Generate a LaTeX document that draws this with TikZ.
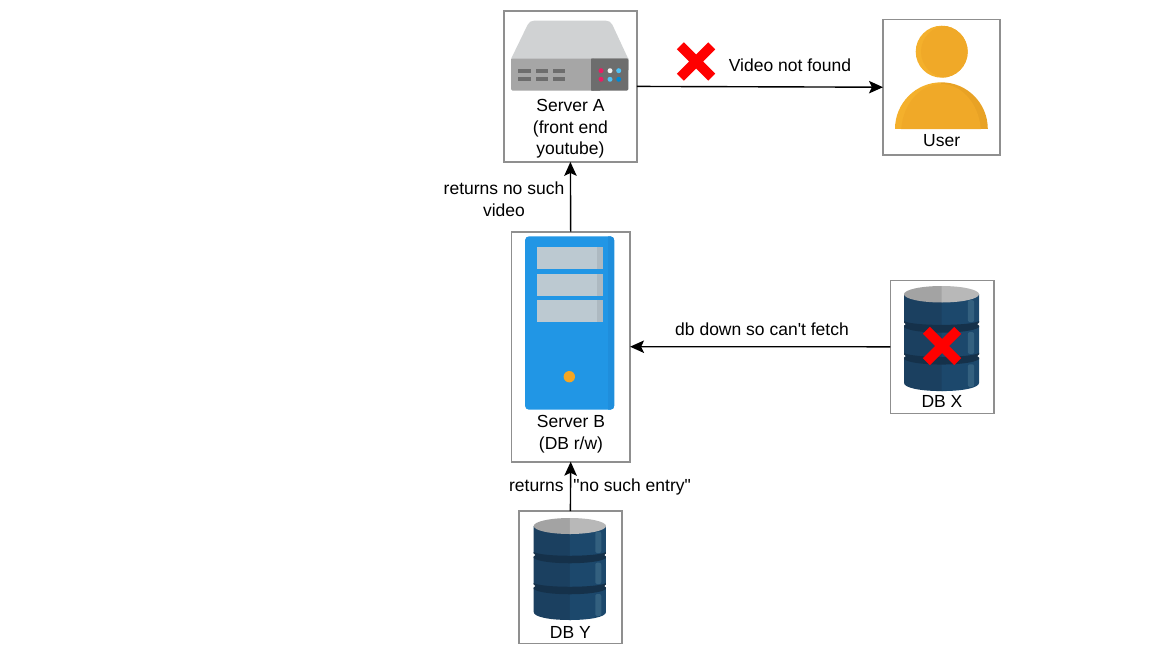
\documentclass[tikz,border=0pt]{standalone}
\usepackage{fontspec}
\usetikzlibrary{arrows.meta}
\newfontfamily\lab{Liberation Sans}
\definecolor{boxgray}{HTML}{8F8F8F}
\definecolor{dbdark}{HTML}{1B4060}
\definecolor{dblight}{HTML}{1C486C}
\definecolor{dbband}{HTML}{15314A}
\definecolor{dbshine}{HTML}{33607F}
\definecolor{dbtopl}{HTML}{A3A3A3}
\definecolor{dbtopr}{HTML}{B8B8B8}
\definecolor{srvtop}{HTML}{D0D2D3}
\definecolor{srvfront}{HTML}{A6A6A6}
\definecolor{srvpanel}{HTML}{6D6D6D}
\definecolor{srvblue}{HTML}{2196E5}
\definecolor{srvblued}{HTML}{1F8EDC}
\definecolor{slot}{HTML}{BCC9D1}
\definecolor{slotd}{HTML}{ADB9C1}
\definecolor{orangeu}{HTML}{F0A928}
\definecolor{orangel}{HTML}{F4B02C}
\definecolor{oranged}{HTML}{E8A225}
\definecolor{dotpink}{HTML}{E91E63}
\definecolor{dotwhite}{HTML}{F0F0F0}
\definecolor{dotsky}{HTML}{4FC3F7}
\definecolor{dotblue}{HTML}{0288D1}
\definecolor{dotorange}{HTML}{F5A623}
\newcommand{\dbicon}[4]{%
 \begin{scope}[shift={(#1,#2)},xscale=#3,yscale=#4]
  \fill[dbdark] (0,8) -- (37,8) -- (37,102) -- (36,102) .. controls (16,102) and (0,99) .. (0,94) -- cycle;
  \fill[dblight] (36,8) -- (72,8) -- (72,94) .. controls (72,99) and (56,102) .. (36,102) -- cycle;
  \fill[dbband] (0,34) .. controls (8,39) and (64,39) .. (72,34) -- (72,40) .. controls (64,47) and (8,47) .. (0,40) -- cycle;
  \fill[dbband] (0,65) .. controls (8,70) and (64,70) .. (72,65) -- (72,71) .. controls (64,78) and (8,78) .. (0,71) -- cycle;
  \fill[white] (-1,35) -- (1.5,37) -- (-1,39) -- cycle (73,35) -- (70.5,37) -- (73,39) -- cycle;
  \fill[white] (-1,66) -- (1.5,68) -- (-1,70) -- cycle (73,66) -- (70.5,68) -- (73,70) -- cycle;
  \fill[dbshine, rounded corners=2pt] (61.3,13.7) rectangle (67.3,35);
  \fill[dbshine, rounded corners=2pt] (61.3,44.7) rectangle (67.3,66);
  \fill[dbshine, rounded corners=2pt] (61.3,76) rectangle (67.3,98);
  \fill[dbtopl] (37,0) -- (36,0) .. controls (16,0) and (0,3.6) .. (0,8) .. controls (0,12.4) and (16,16) .. (36,16) -- (37,16) -- cycle;
  \fill[dbtopr] (36,0) .. controls (56,0) and (72,3.6) .. (72,8) .. controls (72,12.4) and (56,16) .. (36,16) -- cycle;
 \end{scope}}
\newcommand{\redx}[2]{%
 \fill[red,shift={(#1,#2)}] (-19.2,-12.2) -- (-12.2,-19.2) -- (0,-7) -- (12.2,-19.2) -- (19.2,-12.2) -- (7,0) -- (19.2,12.2) -- (12.2,19.2) -- (0,7) -- (-12.2,19.2) -- (-19.2,12.2) -- (-7,0) -- cycle;}
\tikzset{
 frame/.style={draw=boxgray,line width=1.6pt,fill=white,inner sep=0pt,outer sep=0pt},
 txt/.style={font=\lab\fontsize{17.5}{21.5}\selectfont,align=center,inner sep=0pt,text=black},
 conn/.style={-{Stealth[length=14pt,width=12.5pt,inset=3pt]},line width=1.4pt,black},
}
\begin{document}
\begin{tikzpicture}[x=1pt,y=-1pt]
\useasboundingbox (0,0) rectangle (1162,657);
\fill[white] (0,0) rectangle (1162,657);
% frames
\node[frame,minimum width=133pt,minimum height=151pt] (a) at (570.4,86.4) {};
\node[frame,minimum width=118.7pt,minimum height=230pt] (b) at (570.7,346.7) {};
\node[frame,minimum width=117pt,minimum height=135.7pt] (u) at (941.5,87.2) {};
\node[frame,minimum width=103.7pt,minimum height=133pt] (x) at (942.2,346.8) {};
\node[frame,minimum width=103.3pt,minimum height=132.3pt] (y) at (570.4,577.2) {};
% server A icon
\fill[srvtop] (511,59) -- (527.5,25) .. controls (529,22) and (531,20.7) .. (534,20.7) -- (606,20.7) .. controls (609,20.7) and (611,22) .. (612.5,25) -- (628.3,59) -- cycle;
\fill[srvfront,rounded corners=1.5pt] (511,58.7) rectangle (595,90.7);
\fill[srvfront] (511,58.7) rectangle (595,70);
\fill[srvpanel,rounded corners=1.5pt] (591,58.7) rectangle (628.3,90.7);
\fill[srvpanel] (591,58.7) rectangle (628.3,70) (591,70) rectangle (600,90.7);
\foreach \sx in {518.3,535.7,552.7}{
 \fill[srvpanel] (\sx,69) rectangle ++(12.6,4.2);
 \fill[srvpanel] (\sx,76.7) rectangle ++(12.6,4.3);
}
\fill[dotpink] (601,70.7) circle (2.5pt) (601,79.3) circle (2.5pt);
\fill[dotwhite] (610,70.7) circle (2.5pt);
\fill[dotsky] (618.7,70.7) circle (2.5pt) (610,79.3) circle (2.5pt);
\fill[dotblue] (618.7,79.3) circle (2.5pt);
% server B icon
\fill[srvblue,rounded corners=4pt] (525,236.3) rectangle (614.3,409.7);
\begin{scope}
 \clip[rounded corners=4pt] (525,236.3) rectangle (614.3,409.7);
 \fill[srvblued] (608,236.3) rectangle (614.3,409.7);
\end{scope}
\foreach \sy/\ey in {247/268.7,274/295.7,300.3/322}{
 \fill[slot] (536.7,\sy) rectangle (597,\ey);
 \fill[slotd] (597,\sy) rectangle (602.7,\ey);
}
\fill[dotorange] (569.3,376.7) circle (5.7pt);
% user icon
\fill[orangel] (941.7,51.7) circle (26pt);
\begin{scope}
 \clip (941.7,51.7) circle (26pt);
 \fill[orangeu] (947,51.7) circle (26pt);
\end{scope}
\begin{scope}
 \clip (895,129) .. controls (895,103.2) and (915.7,82.3) .. (941.4,82.3) .. controls (967,82.3) and (987.8,103.2) .. (987.8,129) -- cycle;
 \fill[orangel] (895,82) rectangle (941,129);
 \fill[oranged] (941,82) rectangle (988,129);
 \fill[orangeu] (941,134) ellipse (40pt and 50pt);
\end{scope}
% databases
\dbicon{904}{286}{1.042}{1.03}
\dbicon{533.7}{518}{1.004}{1}
% crosses
\redx{696}{61.5}
\redx{942}{346}
% labels
\node[txt] (la) at (570.4,129) {Server A\\(front end\\youtube)};
\node[txt] (lb) at (571,434) {Server B\\(DB r/w)};
\node[txt] (lu) at (941.7,141) {User};
\node[txt] (lx) at (942,401.5) {DB X};
\node[txt] (ly) at (570.4,632) {DB Y};
\node[txt] (e1) at (790,65) {Video not found};
\node[txt] (e2) at (504,199) {returns no such\\video};
\node[txt] (e3) at (762,329) {db down so can't fetch};
\node[txt] (e4) at (600,486.5) {returns \ "no such entry"};
% connectors
\draw[conn] (a.east) -- (u.west);
\draw[conn] (b.north) -- (a.south);
\draw[conn] (x.west) -- (b.east);
\draw[conn] (y.north) -- (b.south);
\end{tikzpicture}
\end{document}
